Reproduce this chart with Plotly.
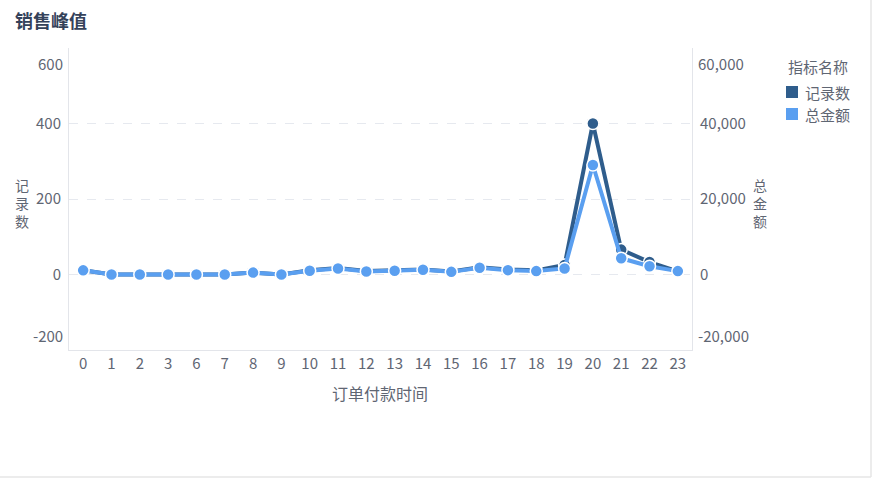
import plotly.graph_objects as go

hours = ["0", "1", "2", "3", "6", "7", "8", "9", "10", "11", "12", "13",
         "14", "15", "16", "17", "18", "19", "20", "21", "22", "23"]
records = [11, 0, 0, 0, 0, 0, 5, 0, 11, 17, 9, 11, 13, 8, 19, 13, 11, 25, 400, 66, 33, 8]
amount = [1100, 0, 0, 0, 0, 0, 500, 0, 1000, 1600, 800, 1000, 1250, 700, 1800, 1150, 900, 1600,
          29000, 4300, 2200, 900]

left_ticks = [-200, 0, 200, 400, 600]
right_ticks = [-20000, 0, 20000, 40000, 60000]
series_names = ["记录数", "总金额"]

DARK = "#2F5D8C"
LIGHT = "#5A9FF0"
FONT = "Noto Sans CJK SC"
TICK_COLOR = "#5F6673"
TS = 15

fig = go.Figure()
fig.add_trace(go.Scatter(
    x=hours, y=records, name=series_names[0], mode="lines+markers",
    line=dict(color=DARK, width=4),
    marker=dict(size=12, color=DARK, line=dict(color="white", width=1.5)),
    showlegend=False, yaxis="y",
))
fig.add_trace(go.Scatter(
    x=hours, y=amount, name=series_names[1], mode="lines+markers",
    line=dict(color=LIGHT, width=4),
    marker=dict(size=12, color=LIGHT, line=dict(color="white", width=1.5)),
    showlegend=False, yaxis="y2",
))

W, H = 872, 478
L, R, T, B = 69, 180, 48, 128
pw, ph = W - L - R, H - T - B

def px_x(x):
    return (x - L) / pw

def px_y(y):
    return (H - B - y) / ph

def ann(text, x, y, xanchor="center", size=TS, color=TICK_COLOR):
    return dict(text=text, x=px_x(x), y=px_y(y), xref="paper", yref="paper",
                xanchor=xanchor, yanchor="middle", showarrow=False,
                font=dict(family=FONT, size=size, color=color))

annotations = [
    # extreme tick labels shifted inward
    ann(str(left_ticks[-1]), 65, 63, "right"),
    ann(str(left_ticks[0]), 65, 335, "right"),
    ann(f"{right_ticks[-1]:,}", 696, 63, "left"),
    ann(f"{right_ticks[0]:,}", 696, 335, "left"),
    # axis titles
    ann("记<br>录<br>数", 22, 203, size=14),
    ann("总<br>金<br>额", 760, 203, size=14),
    ann("订单付款时间", 380, 393, size=16),
    # legend
    ann("指标名称", 786, 66, "left"),
    ann(series_names[0], 803, 92, "left"),
    ann(series_names[1], 803, 114, "left"),
]

shapes = [
    dict(type="line", xref="paper", yref="paper", x0=px_x(0), x1=px_x(871), y0=px_y(477), y1=px_y(477),
         line=dict(color="#E6E6E6", width=1.5)),
    dict(type="line", xref="paper", yref="paper", x0=px_x(871), x1=px_x(871), y0=px_y(0), y1=px_y(477),
         line=dict(color="#E6E6E6", width=1.5)),
    dict(type="rect", xref="paper", yref="paper", x0=px_x(786), x1=px_x(798), y0=px_y(86), y1=px_y(98),
         fillcolor=DARK, line=dict(width=0)),
    dict(type="rect", xref="paper", yref="paper", x0=px_x(786), x1=px_x(798), y0=px_y(108), y1=px_y(120),
         fillcolor=LIGHT, line=dict(width=0)),
]

fig.update_layout(
    width=W, height=H,
    margin=dict(l=L, r=R, t=T, b=B, autoexpand=False),
    paper_bgcolor="white", plot_bgcolor="white",
    font=dict(family=FONT, size=TS, color=TICK_COLOR),
    showlegend=False,
    title=dict(text="<b>销售峰值</b>", x=15 / W, xref="container", xanchor="left",
               y=1 - 22 / H, yref="container", yanchor="middle",
               font=dict(family=FONT, size=18, color="#34425A")),
    xaxis=dict(type="category", categoryorder="array", categoryarray=hours,
               showgrid=False, showline=True, linecolor="#E3E5EA", linewidth=1,
               ticks="", tickfont=dict(size=TS, color=TICK_COLOR), zeroline=False,
               range=[-0.5, len(hours) - 0.5], automargin=False),
    yaxis=dict(range=[left_ticks[0], left_ticks[-1]], tickvals=left_ticks,
               ticktext=["" if v in (left_ticks[0], left_ticks[-1]) else str(v) for v in left_ticks],
               showgrid=True, gridcolor="#E6E9EF", griddash="dash", gridwidth=1,
               showline=True, linecolor="#E3E5EA", linewidth=1, zeroline=False,
               tickfont=dict(size=TS, color=TICK_COLOR), ticks="", ticklabelstandoff=4,
               automargin=False),
    yaxis2=dict(range=[right_ticks[0], right_ticks[-1]], tickvals=right_ticks,
                ticktext=["" if v in (right_ticks[0], right_ticks[-1]) else f"{v:,}" for v in right_ticks],
                overlaying="y", side="right", showgrid=False, zeroline=False,
                showline=True, linecolor="#E3E5EA", linewidth=1,
                tickfont=dict(size=TS, color=TICK_COLOR), ticks="", ticklabelstandoff=4,
                automargin=False),
    annotations=annotations,
    shapes=shapes,
)

fig.write_html("out.html")
